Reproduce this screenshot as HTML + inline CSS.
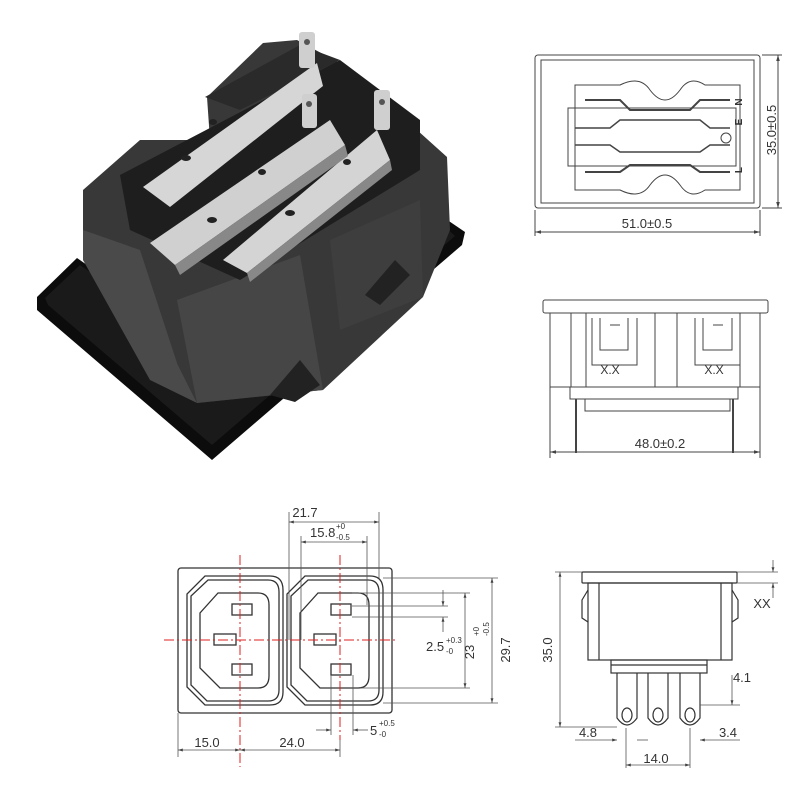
<!DOCTYPE html>
<html><head><meta charset="utf-8"><style>
html,body{margin:0;padding:0;background:#fff}
svg{display:block}
text{font-family:"Liberation Sans",sans-serif;fill:#333}
</style></head><body>
<svg width="800" height="800" viewBox="0 0 800 800" xmlns="http://www.w3.org/2000/svg">
<defs>
<marker id="a" viewBox="0 0 10 10" refX="10" refY="5" markerWidth="6" markerHeight="6" orient="auto-start-reverse"><path d="M0,2 L10,5 L0,8z" fill="#444"/></marker>
</defs>
<!-- PHOTO -->
<g>
<polygon points="37,297 77,258 180,330 440,215 465,232 462,245 212,460 37,310" fill="#0c0c0c"/>
<polygon points="45,298 80,265 200,350 440,222 455,236 212,445 48,305" fill="#1a1a1a"/>
<polygon points="83,190 140,140 210,140 207,97 263,43 297,40 347,67 447,157 450,230 423,297 323,390 197,403 177,363 83,260" fill="#383838"/>
<polygon points="83,230 140,250 177,363 197,403 150,380 83,260" fill="#4a4a4a"/>
<polygon points="177,300 300,255 323,390 197,403" fill="#464646"/>
<polygon points="330,240 420,200 423,297 340,330" fill="#3e3e3e"/>
<polygon points="120,175 340,60 420,120 420,170 240,280 130,230" fill="#1e1e1e"/>
<polygon points="205,97 300,45 340,60 240,110" fill="#2a2a2a"/>
<!-- terminals -->
<polygon points="143,187 170,207 323,86 317,63" fill="#d6d6d6"/>
<polygon points="150,243 175,265 345,145 330,120" fill="#d0d0d0"/>
<polygon points="223,260 247,273 390,160 377,130" fill="#d4d4d4"/>
<polygon points="175,265 180,275 348,156 345,145" fill="#888"/>
<polygon points="247,273 250,282 392,170 390,160" fill="#888"/>
<rect x="299" y="32" width="16" height="36" rx="3" fill="#cfcfcf"/>
<rect x="302" y="94" width="15" height="34" rx="3" fill="#cfcfcf"/>
<rect x="374" y="90" width="16" height="40" rx="3" fill="#cfcfcf"/>
<circle cx="307" cy="42" r="3" fill="#555"/><circle cx="309" cy="104" r="3" fill="#555"/><circle cx="382" cy="102" r="3" fill="#555"/>
<ellipse cx="213" cy="122" rx="4" ry="3" fill="#222"/><ellipse cx="262" cy="172" rx="4" ry="3" fill="#222"/>
<ellipse cx="212" cy="220" rx="5" ry="3" fill="#222"/><ellipse cx="290" cy="213" rx="5" ry="3" fill="#222"/>
<ellipse cx="186" cy="158" rx="5" ry="3" fill="#222"/><ellipse cx="347" cy="162" rx="4" ry="3" fill="#222"/>
<polygon points="270,395 300,360 320,385 295,402" fill="#222"/>
<polygon points="365,295 395,260 410,275 380,305" fill="#222"/>
</g>

<!-- TOP VIEW -->
<g fill="none" stroke="#444" stroke-width="1">
<rect x="535" y="55" width="225" height="153" rx="3"/>
<rect x="541" y="60" width="213" height="143"/>
<path d="M575,85 L620,85 Q640,75 650,90 Q665,110 680,90 Q690,75 705,85 L740,85 L740,190 L705,190 Q690,200 680,185 Q665,165 650,185 Q640,200 620,190 L575,190 Z"/>
<rect x="568" y="108" width="168" height="58"/>
<path d="M585,100 H620 L630,110 H690 L700,100 H730 M585,172 H620 L630,165 H690 L700,172 H730" stroke-width="2"/>
<path d="M575,128 H610 L620,120 H700 L710,128 H730 M575,145 H610 L620,152 H700 L710,145 H730" stroke-width="1.5"/>
<circle cx="726" cy="138" r="5"/>
<line x1="535" y1="232" x2="760" y2="232" marker-start="url(#a)" marker-end="url(#a)"/>
<line x1="535" y1="210" x2="535" y2="236"/><line x1="760" y1="210" x2="760" y2="236"/>
<line x1="778" y1="55" x2="778" y2="208" marker-start="url(#a)" marker-end="url(#a)"/>
<line x1="762" y1="55" x2="782" y2="55"/><line x1="762" y1="208" x2="782" y2="208"/>
</g>
<text x="742" y="102" font-size="10" font-weight="bold" transform="rotate(-90 742 102)" text-anchor="middle">N</text>
<text x="742" y="122" font-size="10" font-weight="bold" transform="rotate(-90 742 122)" text-anchor="middle">E</text>
<text x="742" y="170" font-size="10" font-weight="bold" transform="rotate(-90 742 170)" text-anchor="middle">L</text>
<text x="647" y="228" font-size="13" text-anchor="middle">51.0±0.5</text>
<text x="776" y="130" font-size="13" text-anchor="middle" transform="rotate(-90 776 130)">35.0±0.5</text>

<!-- FRONT SIDE VIEW -->
<g fill="none" stroke="#444" stroke-width="1">
<rect x="543" y="300" width="225" height="13" rx="2"/>
<rect x="550" y="313" width="210" height="74"/>
<line x1="571" y1="313" x2="571" y2="387"/><line x1="586" y1="313" x2="586" y2="387"/>
<line x1="655" y1="313" x2="655" y2="387"/><line x1="677" y1="313" x2="677" y2="387"/>
<line x1="740" y1="313" x2="740" y2="387"/>
<path d="M592,318 V365 H637 V318 M600,318 V350 H628 V318 M610,325 H620"/>
<path d="M695,318 V365 H740 V318 M703,318 V350 H732 V318 M713,325 H723"/>
<rect x="570" y="387" width="168" height="12"/>
<rect x="585" y="399" width="145" height="12"/>
<line x1="576" y1="399" x2="576" y2="453" stroke-width="2"/>
<line x1="733" y1="399" x2="733" y2="453" stroke-width="2"/>
<line x1="550" y1="387" x2="550" y2="458"/><line x1="760" y1="387" x2="760" y2="458"/>
<line x1="550" y1="452" x2="760" y2="452" marker-start="url(#a)" marker-end="url(#a)"/>
</g>
<text x="610" y="374" font-size="12" text-anchor="middle">X.X</text>
<text x="714" y="374" font-size="12" text-anchor="middle">X.X</text>
<text x="660" y="448" font-size="13" text-anchor="middle">48.0±0.2</text>

<!-- BOTTOM LEFT FRONT -->
<g fill="none" stroke="#333" stroke-width="1.3">
<rect x="178" y="568" width="214" height="145" rx="3"/>
<path d="M205,576 H270 Q283,576 283,590 V692 Q283,705 270,705 H205 L187,687 V594 Z"/>
<path d="M208,580 H268 Q279,580 279,592 V690 Q279,701 268,701 H207 L191,685 V596 Z"/>
<path d="M218,593 H258 Q269,593 269,605 V676 Q269,688 258,688 H220 L200,668 V613 Z"/>
<path d="M305,576 H370 Q383,576 383,590 V692 Q383,705 370,705 H305 L287,687 V594 Z"/>
<path d="M308,580 H368 Q379,580 379,592 V690 Q379,701 368,701 H307 L291,685 V596 Z"/>
<path d="M318,593 H358 Q369,593 369,605 V676 Q369,688 358,688 H320 L300,668 V613 Z"/>
<rect x="232" y="604" width="20" height="11"/><rect x="214" y="634" width="22" height="11"/><rect x="232" y="664" width="20" height="11"/>
<rect x="331" y="604" width="20" height="11"/><rect x="314" y="634" width="22" height="11"/><rect x="331" y="664" width="20" height="11"/>
</g>
<g stroke="#d22" stroke-width="1" stroke-dasharray="10,3,2,3">
<line x1="240" y1="555" x2="240" y2="767"/><line x1="340" y1="555" x2="340" y2="740"/>
<line x1="164" y1="640" x2="398" y2="640"/>
</g>
<g fill="none" stroke="#555" stroke-width="0.8">
<line x1="289" y1="512" x2="289" y2="640"/><line x1="379" y1="512" x2="379" y2="578"/>
<line x1="289" y1="522" x2="379" y2="522" marker-start="url(#a)" marker-end="url(#a)"/>
<line x1="301" y1="536" x2="301" y2="640"/><line x1="367" y1="536" x2="367" y2="605"/>
<line x1="301" y1="542" x2="367" y2="542" marker-start="url(#a)" marker-end="url(#a)"/>
<line x1="383" y1="578" x2="498" y2="578"/><line x1="352" y1="606" x2="448" y2="606"/>
<line x1="352" y1="617" x2="448" y2="617"/><line x1="352" y1="593" x2="470" y2="593"/>
<line x1="360" y1="688" x2="470" y2="688"/><line x1="383" y1="703" x2="498" y2="703"/>
<line x1="492" y1="578" x2="492" y2="703" marker-start="url(#a)" marker-end="url(#a)"/>
<line x1="465" y1="593" x2="465" y2="688" marker-start="url(#a)" marker-end="url(#a)"/>
<line x1="443" y1="590" x2="443" y2="606" marker-end="url(#a)"/>
<line x1="443" y1="632" x2="443" y2="617" marker-end="url(#a)"/>
<line x1="178" y1="713" x2="178" y2="757"/><line x1="340" y1="740" x2="340" y2="757"/>
<line x1="178" y1="750" x2="240" y2="750" marker-start="url(#a)" marker-end="url(#a)"/>
<line x1="240" y1="750" x2="340" y2="750" marker-start="url(#a)" marker-end="url(#a)"/>
<line x1="331" y1="675" x2="331" y2="735"/><line x1="353" y1="675" x2="353" y2="735"/>
<line x1="316" y1="730" x2="331" y2="730" marker-end="url(#a)"/>
<line x1="368" y1="730" x2="353" y2="730" marker-end="url(#a)"/>
</g>
<text x="305" y="517" font-size="13" text-anchor="middle">21.7</text>
<text x="310" y="537" font-size="13">15.8</text><text x="336" y="529" font-size="8">+0</text><text x="336" y="540" font-size="8">-0.5</text>
<text x="426" y="651" font-size="13">2.5</text><text x="446" y="643" font-size="8">+0.3</text><text x="446" y="654" font-size="8">-0</text>
<text x="474" y="652" font-size="13" text-anchor="middle" transform="rotate(-90 474 652)">23</text>
<text x="479" y="636" font-size="8" transform="rotate(-90 479 636)">+0</text>
<text x="489" y="636" font-size="8" transform="rotate(-90 489 636)">-0.5</text>
<text x="510" y="650" font-size="13" text-anchor="middle" transform="rotate(-90 510 650)">29.7</text>
<text x="207" y="747" font-size="13" text-anchor="middle">15.0</text>
<text x="292" y="747" font-size="13" text-anchor="middle">24.0</text>
<text x="370" y="735" font-size="13">5</text><text x="379" y="726" font-size="8">+0.5</text><text x="379" y="737" font-size="8">-0</text>

<!-- BOTTOM RIGHT SIDE -->
<g fill="none" stroke="#333" stroke-width="1.2">
<rect x="582" y="572" width="155" height="11" rx="1"/>
<rect x="588" y="583" width="144" height="77"/>
<line x1="599" y1="583" x2="599" y2="660"/><line x1="721" y1="583" x2="721" y2="660"/>
<path d="M588,590 L582,600 L582,618 L588,622 M732,590 L738,600 L738,618 L732,622"/>
<rect x="611" y="660" width="96" height="13"/>
<line x1="611" y1="665" x2="707" y2="665"/>
<path d="M617,673 V718 Q627,732 637,718 V673"/>
<path d="M648,673 V718 Q658,732 668,718 V673"/>
<path d="M680,673 V718 Q690,732 700,718 V673"/>
<ellipse cx="627" cy="715" rx="5" ry="7"/><ellipse cx="658" cy="715" rx="5" ry="7"/><ellipse cx="690" cy="715" rx="5" ry="7"/>
</g>
<g fill="none" stroke="#555" stroke-width="0.8">
<line x1="555" y1="572" x2="582" y2="572"/><line x1="555" y1="727" x2="617" y2="727"/>
<line x1="560" y1="572" x2="560" y2="727" marker-start="url(#a)" marker-end="url(#a)"/>
<line x1="737" y1="583" x2="778" y2="583"/><line x1="737" y1="572" x2="778" y2="572"/>
<line x1="773" y1="560" x2="773" y2="572" marker-end="url(#a)"/>
<line x1="773" y1="598" x2="773" y2="583" marker-end="url(#a)"/>
<line x1="700" y1="705" x2="740" y2="705"/>
<line x1="732" y1="675" x2="732" y2="705" marker-end="url(#a)"/>
<line x1="575" y1="740" x2="617" y2="740" marker-end="url(#a)"/>
<line x1="637" y1="740" x2="648" y2="740"/>
<line x1="626" y1="728" x2="626" y2="768"/><line x1="690" y1="728" x2="690" y2="768"/>
<line x1="626" y1="765" x2="690" y2="765" marker-start="url(#a)" marker-end="url(#a)"/>
<line x1="740" y1="740" x2="700" y2="740" marker-end="url(#a)"/>
</g>
<text x="552" y="650" font-size="13" text-anchor="middle" transform="rotate(-90 552 650)">35.0</text>
<text x="762" y="608" font-size="13" text-anchor="middle">XX</text>
<text x="742" y="682" font-size="13" text-anchor="middle">4.1</text>
<text x="588" y="737" font-size="13" text-anchor="middle">4.8</text>
<text x="728" y="737" font-size="13" text-anchor="middle">3.4</text>
<text x="656" y="763" font-size="13" text-anchor="middle">14.0</text>
</svg>
</body></html>
